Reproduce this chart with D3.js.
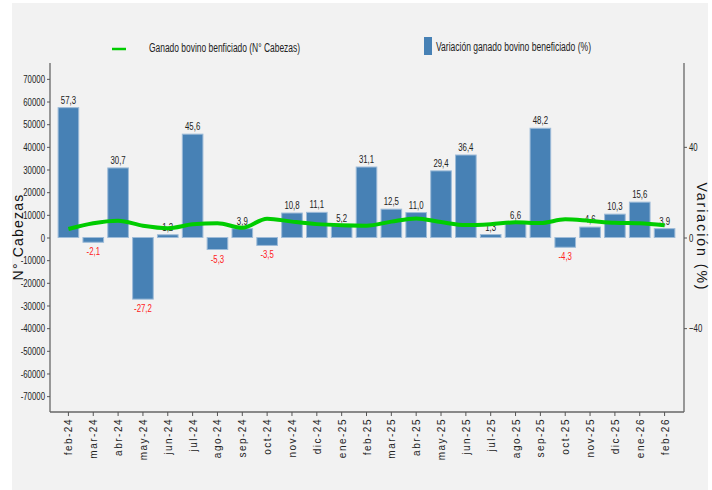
<!DOCTYPE html>
<html><head><meta charset="utf-8">
<script src="https://cdn.jsdelivr.net/npm/d3@7"></script>
<style>
html,body{margin:0;padding:0;background:#fff;}
text{font-family:"Liberation Sans",Arial,sans-serif;}
</style>
</head><body>
<svg id="chart" width="712" height="490"></svg>
<script>
const categories = ["feb-24","mar-24","abr-24","may-24","jun-24","jul-24","ago-24","sep-24","oct-24","nov-24","dic-24","ene-25","feb-25","mar-25","abr-25","may-25","jun-25","jul-25","ago-25","sep-25","oct-25","nov-25","dic-25","ene-26","feb-26"];
const variacion = [57.3,-2.1,30.7,-27.2,1.2,45.6,-5.3,3.9,-3.5,10.8,11.1,5.2,31.1,12.5,11.0,29.4,36.4,1.3,6.6,48.2,-4.3,4.6,10.3,15.6,3.9];
const cabezas = [3750,6300,7400,5200,4100,5800,6300,4300,8300,7000,5900,5400,5200,7000,8400,6800,5500,5900,6700,6400,8000,7300,6500,6300,5400];
const leftTicks = [70000,60000,50000,40000,30000,20000,10000,0,-10000,-20000,-30000,-40000,-50000,-60000,-70000];
const rightTicks = [40,0,-40];

const SX = 0.68; // condensed look
const svg = d3.select("#chart");
svg.append("rect").attr("x",12).attr("y",3).attr("width",696).attr("height",487).attr("fill","#f2f2f2");

const L = 50, R = 684, T = 63, B = 412;
const x = d3.scaleBand().domain(categories).range([56, 677]).paddingInner(0.17).paddingOuter(0.085);
const yL = d3.scaleLinear().domain([-77000, 77000]).range([B, T]);
const yR = d3.scaleLinear().domain([-77, 77]).range([B, T]);

const fmt = v => v.toFixed(1).replace(".", ",");

// bars
svg.append("g").selectAll("rect").data(variacion).join("rect")
  .attr("x",(d,i)=>x(categories[i]))
  .attr("width",x.bandwidth())
  .attr("y",d=>yR(Math.max(0,d)))
  .attr("height",d=>Math.abs(yR(d)-yR(0)))
  .attr("fill","#4781b5").attr("stroke","#9dbbd8").attr("stroke-width",1);

// bar labels
svg.append("g").selectAll("text").data(variacion).join("text")
  .attr("transform",(d,i)=>`translate(${x(categories[i])+x.bandwidth()/2},${d>=0 ? yR(d)-4 : yR(d)+13}) scale(${SX},1)`)
  .attr("text-anchor","middle")
  .attr("font-size",11.5)
  .attr("fill",d=> d>=0 ? "#222" : "#ff2020")
  .text(fmt);

// line
const line = d3.line()
  .x((d,i)=>x(categories[i])+x.bandwidth()/2)
  .y(d=>yL(d))
  .curve(d3.curveMonotoneX);
svg.append("path").datum(cabezas).attr("d",line)
  .attr("fill","none").attr("stroke","#00cc00").attr("stroke-width",4).attr("stroke-linejoin","round");

// axes
const axL = d3.axisLeft(yL).tickValues(leftTicks).tickSize(3).tickPadding(2).tickFormat(d=>String(d));
const gL = svg.append("g").attr("transform",`translate(${L},0)`).call(axL);
gL.select(".domain").attr("d",`M0,${T}V${B}`);
const axR = d3.axisRight(yR).tickValues(rightTicks).tickSize(3).tickPadding(2);
const gR = svg.append("g").attr("transform",`translate(${R},0)`).call(axR);
gR.select(".domain").attr("d",`M0,${T}V${B}`);
gL.selectAll("text").attr("x",-5/SX).attr("transform",`scale(${SX},1)`);
gR.selectAll("text").attr("x",5/SX).attr("transform",`scale(${SX},1)`);
[gL,gR].forEach(g=>{
  g.selectAll("text").attr("font-family","Liberation Sans, Arial, sans-serif").attr("font-size",11.5).attr("fill","#222");
  g.selectAll("line").attr("stroke","#555");
  g.select(".domain").attr("stroke","#666").attr("stroke-width",1.3);
});

// bottom axis
svg.append("line").attr("x1",L).attr("x2",R).attr("y1",B).attr("y2",B).attr("stroke","#666").attr("stroke-width",1.3);
const axB = d3.axisBottom(x).tickSize(4).tickSizeOuter(0);
const gB = svg.append("g").attr("transform",`translate(0,${B})`).call(axB);
gB.select(".domain").remove();
gB.selectAll("line").attr("stroke","#555");
gB.selectAll("text")
  .attr("font-family","DejaVu Sans, sans-serif").attr("font-size",10).attr("fill","#222")
  .attr("letter-spacing","1.5px")
  .attr("transform","rotate(-90)")
  .attr("text-anchor","end").attr("dx",-6).attr("dy",4).attr("y",0).attr("x",0);

// axis titles
svg.append("text").attr("transform","translate(23,237) rotate(-90)")
  .attr("text-anchor","middle").attr("font-family","DejaVu Sans, sans-serif").attr("font-size",14)
  .attr("letter-spacing","1.2px").attr("fill","#111").text("N° Cabezas");
svg.append("text").attr("transform","translate(697,237) rotate(90)")
  .attr("text-anchor","middle").attr("font-family","DejaVu Sans, sans-serif").attr("font-size",14)
  .attr("letter-spacing","2px").attr("fill","#111").text("Variación (%)");

// legend
svg.append("line").attr("x1",112).attr("x2",126).attr("y1",49).attr("y2",49).attr("stroke","#00cc00").attr("stroke-width",2.5);
svg.append("text").attr("x",149).attr("y",52).attr("font-size",12.5).attr("fill","#222")
  .attr("textLength",151).attr("lengthAdjust","spacingAndGlyphs")
  .text("Ganado bovino benficiado (N° Cabezas)");
svg.append("rect").attr("x",424).attr("y",37).attr("width",8).attr("height",18).attr("fill","#4781b5");
svg.append("text").attr("x",436).attr("y",51).attr("font-size",12.5).attr("fill","#222")
  .attr("textLength",155).attr("lengthAdjust","spacingAndGlyphs")
  .text("Variación ganado bovino beneficiado (%)");
</script>
</body></html>
